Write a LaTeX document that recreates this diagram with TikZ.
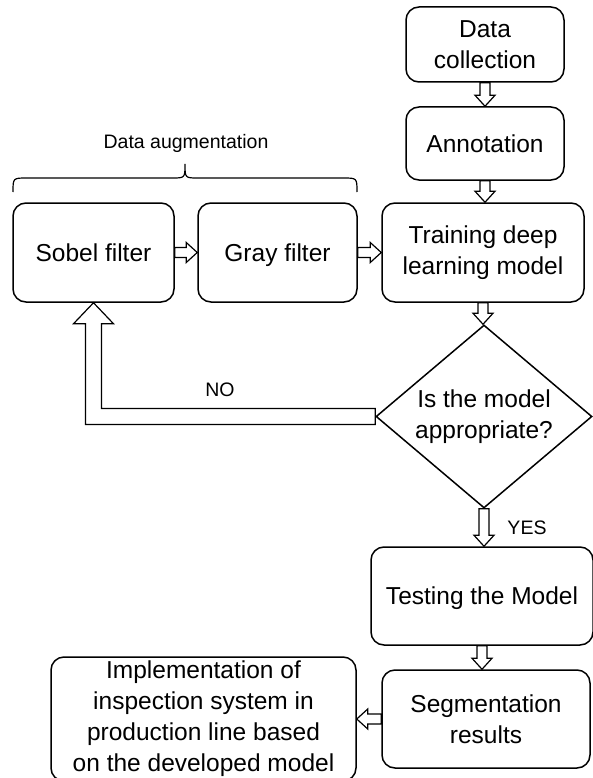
\documentclass[tikz,border=0pt]{standalone}
\usepackage{fontspec}
\setmainfont{Liberation Sans}
\usetikzlibrary{shapes.geometric,calc}
\tikzset{
 box/.style={draw, line width=1.5pt, rounded corners=13pt, align=center, font=\fontsize{24.5}{31}\selectfont, inner sep=0pt},
 decbox/.style={draw, diamond, line width=1.5pt, inner sep=0pt, aspect=1.18, align=center, font=\fontsize{24.5}{31}\selectfont},
 fat/.style={draw, line width=1.2pt, fill=white, line join=miter},
 lbl/.style={font=\fontsize{19.5}{23}\selectfont, inner sep=0pt},
 bracepath/.style={draw, line width=1.2pt},
}
\newcommand\nodepth[1]{\raisebox{0pt}[\height][0pt]{#1}}
\newcommand\fatdown[2]{\path[fat] let \p1=(#1.south), \p2=(#2.north) in (\x1-5pt,\y1) -- (\x1-5pt,\y2+11pt) -- (\x1-10pt,\y2+11pt) -- (\x1,\y2) -- (\x1+10pt,\y2+11pt) -- (\x1+5pt,\y2+11pt) -- (\x1+5pt,\y1) -- cycle;}
\newcommand\fatright[2]{\path[fat] let \p1=(#1.east), \p2=(#2.west) in (\x1,\y1+5pt) -- (\x2-11pt,\y1+5pt) -- (\x2-11pt,\y1+10pt) -- (\x2,\y1) -- (\x2-11pt,\y1-10pt) -- (\x2-11pt,\y1-5pt) -- (\x1,\y1-5pt) -- cycle;}
\newcommand\fatleft[2]{\path[fat] let \p1=(#1.west), \p2=(#2.east) in (\x1,\y1+5pt) -- (\x2+11pt,\y1+5pt) -- (\x2+11pt,\y1+10pt) -- (\x2,\y1) -- (\x2+11pt,\y1-10pt) -- (\x2+11pt,\y1-5pt) -- (\x1,\y1-5pt) -- cycle;}
\begin{document}
\begin{tikzpicture}[x=1pt,y=1pt]
\useasboundingbox (0,0) rectangle (592,-778);
\node[box, minimum width=158pt, minimum height=75pt] (dc) at (485,-44.5) {Data\\collection};
\node[box, minimum width=158pt, minimum height=73pt] (ann) at (485,-143.5) {Annotation};
\node[box, minimum width=202pt, minimum height=99pt] (train) at (483,-252.5) {Training deep\\learning model};
\node[box, minimum width=161pt, minimum height=99pt] (sobel) at (93.5,-252.5) {Sobel filter};
\node[box, minimum width=159pt, minimum height=99pt] (gray) at (277.5,-252.5) {\nodepth{Gray filter}};
\node[decbox, minimum width=216pt, minimum height=183pt] (dec) at (484,-416.5) {Is the model\\appropriate?};
\node[box, minimum width=222pt, minimum height=98pt] (test) at (482,-596) {\nodepth{Testing the Model}};
\node[box, minimum width=208pt, minimum height=98pt] (seg) at (486,-719) {Segmentation\\results};
\node[box, minimum width=305pt, minimum height=124pt] (impl) at (203.5,-719) {Implementation of\\inspection system in\\production line based\\on the developed model};
\fatdown{dc}{ann}
\fatdown{ann}{train}
\fatdown{train}{dec}
\fatdown{dec}{test}
\fatdown{test}{seg}
\fatright{sobel}{gray}
\fatright{gray}{train}
\fatleft{seg}{impl}
\path[fat] let \p1=(dec.west), \p2=(sobel.south) in (\x1,\y1+8pt) -- (\x2+8pt,\y1+8pt) -- (\x2+8pt,\y2-21pt) -- (\x2+20pt,\y2-21pt) -- (\x2,\y2) -- (\x2-20pt,\y2-21pt) -- (\x2-8pt,\y2-21pt) -- (\x2-8pt,\y1-8pt) -- (\x1,\y1-8pt) -- cycle;
\node[lbl] (no) at (220,-390) {NO};
\node[lbl] (yes) at (527,-528) {YES};
\node[lbl] (aug) at (186,-143) {Data augmentation};
\path[bracepath] (13,-192) .. controls (13,-178) .. (27,-178) -- (172,-178) .. controls (185,-178) .. (185,-164) .. controls (185,-178) .. (198,-178) -- (343,-178) .. controls (357,-178) .. (357,-192);
\end{tikzpicture}
\end{document}
